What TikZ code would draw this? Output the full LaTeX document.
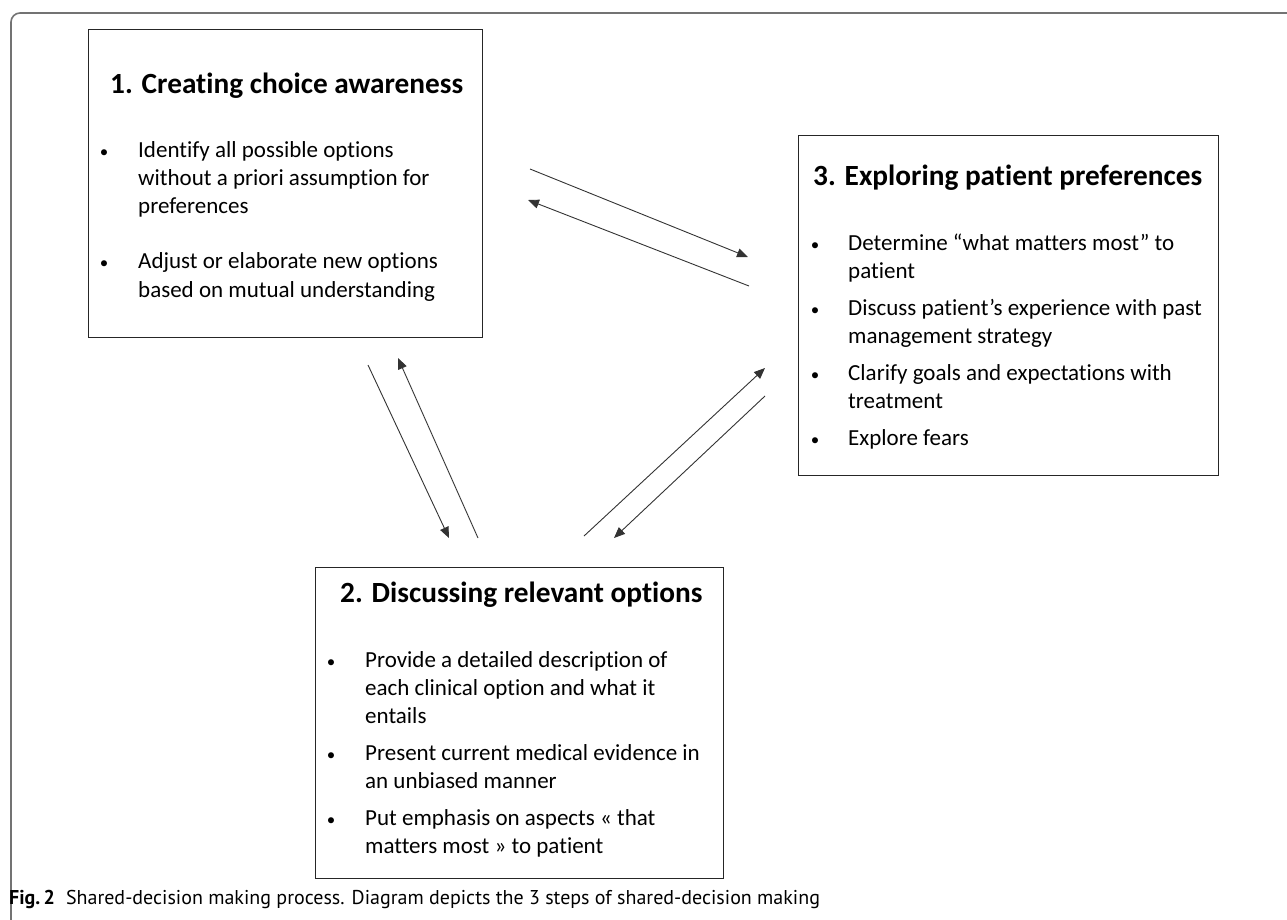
\documentclass[tikz,border=0pt]{standalone}
\usepackage{fontspec}
\setmainfont{Carlito}[Ligatures=NoCommon]
\newfontfamily\capfont{PT Sans}
\usetikzlibrary{arrows.meta}
\begin{document}
\begin{tikzpicture}[x=1pt,y=-1pt,
  stepbox/.style={draw=black!85, line width=1.4pt, anchor=north west, inner sep=0pt},
  ttl/.style={anchor=base west, inner sep=0pt, font=\fontsize{29.3}{35}\selectfont\bfseries},
  txt/.style={anchor=base west, inner sep=0pt, font=\fontsize{23}{28}\selectfont},
  bul/.style={anchor=base, inner sep=0pt, font=\fontsize{17}{20}\selectfont},
  conn/.style={draw=black!80, line width=0.9pt, -{Triangle[length=11pt,width=9pt]}},
  capt/.style={anchor=base west, inner sep=0pt, font=\capfont\fontsize{20}{24}\selectfont}]
\useasboundingbox (0,0) rectangle (1287,919);
\begin{scope}
\clip (0,0) rectangle (1287,919);
\draw[draw=black!55, line width=1.6pt, rounded corners=9pt] (11,13) rectangle (1320,960);
\end{scope}

% boxes
\node[stepbox, minimum width=394pt, minimum height=308pt] (b1) at (88,29) {};
\node[stepbox, minimum width=420pt, minimum height=340pt] (b3) at (798,135) {};
\node[stepbox, minimum width=408pt, minimum height=311pt] (b2) at (315,567) {};

% box 1
\node[ttl] (t1) at (110,93) {1. Creating choice awareness};
\node[bul] (d11) at (104,157) {•};
\node[bul] (d12) at (104,268) {•};
\foreach \yy/\tt [count=\i] in {157/Identify all possible options, 185/without a priori assumption for, 213/preferences, 268/Adjust or elaborate new options, 297/based on mutual understanding}
  \node[txt] (l1\i) at (138,\yy) {\tt};

% box 3
\node[ttl] (t3) at (813,185) {3. Exploring patient preferences};
\foreach \yy [count=\i] in {250,315,380,445}
  \node[bul] (d3\i) at (815,\yy) {•};
\foreach \yy/\tt [count=\i] in {250/{Determine “what matters most” to}, 278/patient, 315/Discuss patient’s experience with past, 343/management strategy, 380/Clarify goals and expectations with, 408/treatment, 445/Explore fears}
  \node[txt] (l3\i) at (848,\yy) {\tt};

% box 2
\node[ttl] (t2) at (340,602) {2. Discussing relevant options};
\foreach \yy [count=\i] in {667,760,825}
  \node[bul] (d2\i) at (331,\yy) {•};
\foreach \yy/\tt [count=\i] in {667/Provide a detailed description of, 695/each clinical option and what it, 723/entails, 760/Present current medical evidence in, 788/an unbiased manner, 825/Put emphasis on aspects « that, 853/matters most » to patient}
  \node[txt] (l2\i) at (365,\yy) {\tt};

% connector end points
\coordinate (a1s) at (530,169); \coordinate (a1e) at (748,257);
\coordinate (a2s) at (749,286); \coordinate (a2e) at (528,200);
\coordinate (a3s) at (368,365); \coordinate (a3e) at (449,538);
\coordinate (a4s) at (478,538); \coordinate (a4e) at (398,358);
\coordinate (a5s) at (584,536); \coordinate (a5e) at (765,368);
\coordinate (a6s) at (765,396); \coordinate (a6e) at (614,538);
\draw[conn] (a1s) -- (a1e);
\draw[conn] (a2s) -- (a2e);
\draw[conn] (a3s) -- (a3e);
\draw[conn] (a4s) -- (a4e);
\draw[conn] (a5s) -- (a5e);
\draw[conn] (a6s) -- (a6e);

% caption
\node[capt] (cap) at (9,904) {\textbf{Fig.\,2}\hspace{0.55em}Shared-decision making process. Diagram depicts the 3 steps of shared-decision making};
\end{tikzpicture}
\end{document}
